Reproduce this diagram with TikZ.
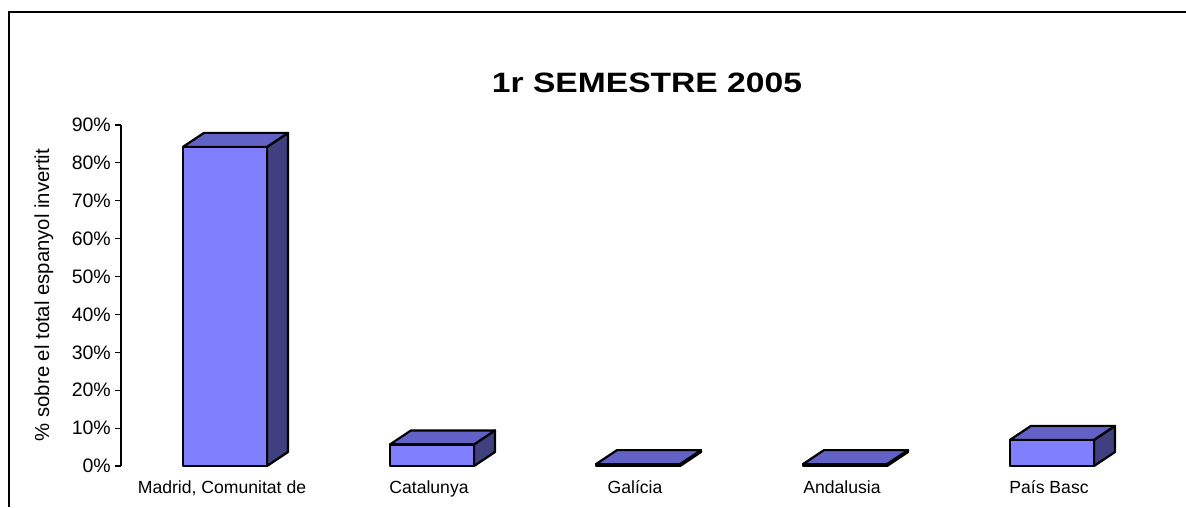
\documentclass[tikz,border=0pt]{standalone}
\usepackage{fontspec}
\setmainfont{Liberation Sans}
\definecolor{barfr}{HTML}{8080FF}
\definecolor{bartp}{HTML}{6262C6}
\definecolor{barsd}{HTML}{404080}
\tikzset{
  frm/.style = {line width=1.3pt, black},
  axs/.style = {line width=1.2pt, black},
  bar/.style = {draw=black, line width=2.2pt, line join=round},
  ttl/.style = {font=\fontsize{28}{34}\selectfont\bfseries, anchor=base, inner sep=0pt},
  tck/.style = {font=\fontsize{19.5}{23}\selectfont, anchor=east, inner sep=0pt},
  ylab/.style = {font=\fontsize{20.3}{24}\selectfont, rotate=90, inner sep=0pt},
  cat/.style = {font=\fontsize{17.6}{21}\selectfont, anchor=base, inner sep=0pt},
}
\begin{document}
\begin{tikzpicture}[x=1pt, y=-1pt]
  \useasboundingbox (0,0) rectangle (1186,507);
  \draw[frm] (9,507) -- (9,12) -- (1186,12);
  \node[ttl] (title) at (647,92) {\scalebox{1.2}[1]{1r SEMESTRE 2005}};
  \node[ylab] (ylabel) at (44,295) {\% sobre el total espanyol invertit};
  \draw[axs] (121,466) -- (121,125);
  \foreach \k/\v in {0/0,1/10,2/20,3/30,4/40,5/50,6/60,7/70,8/80,9/90}{
    \draw[axs] (115,466-37.9*\k) -- (121,466-37.9*\k);
    \node[tck] (tick\k) at (111,466-37.9*\k) {\v\%};
  }
  \foreach \x/\h/\n/\lab in {183/84.2/madrid/{Madrid, Comunitat de},
                             390/5.7/catalunya/{Catalunya},
                             596/0.5/galicia/{Galícia},
                             803/0.5/andalusia/{Andalusia},
                             1010/6.9/paisbasc/{País Basc}}{
    \pgfmathsetmacro\ytop{466-3.79*\h}
    \filldraw[bar, fill=barsd] (\x+84,466) -- (\x+105,452) -- (\x+105,\ytop-14) -- (\x+84,\ytop) -- cycle;
    \filldraw[bar, fill=bartp] (\x,\ytop) -- (\x+21,\ytop-14) -- (\x+105,\ytop-14) -- (\x+84,\ytop) -- cycle;
    \filldraw[bar, fill=barfr] (\x,466) rectangle (\x+84,\ytop);
    \node[cat] (\n) at (\x+39,493) {\lab};
  }
\end{tikzpicture}
\end{document}
